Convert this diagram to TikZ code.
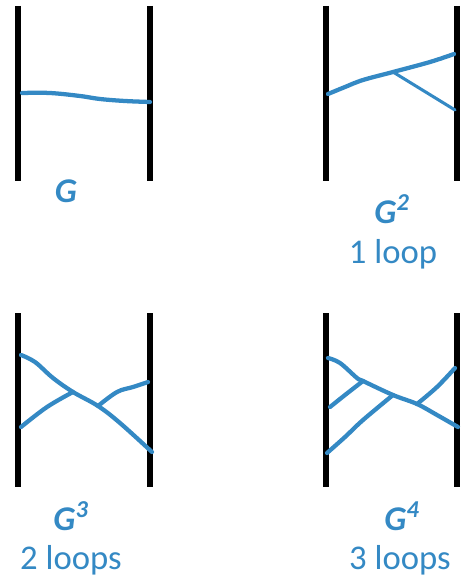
\documentclass[tikz,border=0pt]{standalone}
\usepackage{fontspec}
\setmainfont{Carlito}
\usepackage{xcolor}
\usepackage{tikz}
\usetikzlibrary{positioning}
\definecolor{inkblue}{RGB}{52,137,196}

\begin{document}
\begin{tikzpicture}[
    x=0.75pt, y=-0.75pt,
    bar/.style={line width=5pt, black},
    strand/.style={line width=3.2pt, inkblue, line cap=round, line join=round},
    thinstrand/.style={strand, line width=2.3pt},
    glabel/.style={anchor=base, inner sep=0pt, text=inkblue, font=\fontsize{26}{30}\selectfont\bfseries\itshape},
    looplabel/.style={anchor=base, inner sep=0pt, text=inkblue, font=\fontsize{26}{30}\selectfont}
]
\useasboundingbox (0,0) rectangle (461,577);

% G
\draw[bar] (18,6) -- (18,181);
\draw[bar] (150,6) -- (150,181);
\draw[strand] plot[smooth, tension=0.6] coordinates {(22,93) (50,93) (80,96) (100,99) (125,101) (150,102)};
\node[glabel] (g1) at (66,202) {G};

% G^2
\draw[bar] (326,6) -- (326,181);
\draw[bar] (457,6) -- (457,181);
\coordinate (j21) at (393,72);
\draw[strand] plot[smooth, tension=0.6] coordinates {(328,94) (345,87) (363,80) (j21) (430,62) (454,54)};
\draw[thinstrand] (j21) -- (455,110);
\node[glabel] (g2) at (392,223) {G\textsuperscript{2}};
\node[looplabel] (l2) at (393,263) {1 loop};

% G^3
\draw[bar] (18,313) -- (18,487);
\draw[bar] (150,313) -- (150,487);
\coordinate (j31) at (73,392);
\coordinate (j32) at (98,406);
\draw[strand] plot[smooth, tension=0.6] coordinates {(21,355) (35,362) (53,378) (j31) (j32) (120,423) (152,452)};
\draw[strand] plot[smooth, tension=0.6] coordinates {(21,427) (47,407) (j31)};
\draw[strand] plot[smooth, tension=0.6] coordinates {(j32) (117,392) (133,387) (148,382)};
\node[glabel] (g3) at (71,530) {G\textsuperscript{3}};
\node[looplabel] (l3) at (71,569) {2 loops};

% G^4
\draw[bar] (326,313) -- (326,487);
\draw[bar] (457,313) -- (457,487);
\coordinate (j41) at (363,381);
\coordinate (j42) at (393,395);
\coordinate (j43) at (417,404);
\draw[strand] plot[smooth, tension=0.6] coordinates {(328,358) (340,363) (357,378) (j41) (j42) (j43) (437,415) (458,427)};
\draw[strand] plot[smooth, tension=0.6] coordinates {(330,407) (345,395) (j41)};
\draw[strand] plot[smooth, tension=0.6] coordinates {(327,453) (345,437) (363,420) (j42)};
\draw[strand] plot[smooth, tension=0.6] coordinates {(j43) (437,387) (455,368)};
\node[glabel] (g4) at (402,530) {G\textsuperscript{4}};
\node[looplabel] (l4) at (400,569) {3 loops};
\end{tikzpicture}
\end{document}
